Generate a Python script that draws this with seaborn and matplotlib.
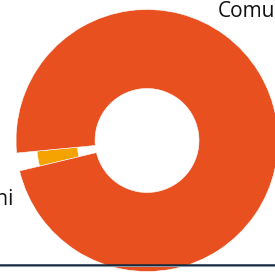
import matplotlib
matplotlib.use('Agg')
import matplotlib.pyplot as plt
import seaborn as sns

# Data
categories = ['Comune', 'Altri comuni']
shares = [97.8, 2.2]
colors = ['#E9501F', '#F4A300']

sns.set_style('white')
plt.rcParams['font.family'] = ['Open Sans', 'DejaVu Sans']

fig = plt.figure(figsize=(2.75, 2.72), dpi=100)
ax = fig.add_axes([0, 0, 1, 1])

# small slice first so it sits just below the left horizontal
wedges, _ = ax.pie(
    shares[::-1],
    colors=colors[::-1],
    startangle=185.5,
    counterclock=True,
    center=(147, 131.5),
    radius=131,
    wedgeprops=dict(width=79, edgecolor='white', linewidth=0.4),
)

# the small slice is drawn thinner than the selected big slice
wedges[0].set_radius(110.5)
wedges[0].set_width(40.5)

ax.set_xlim(0, 275)
ax.set_ylim(0, 272)
ax.set_aspect('equal')
ax.axis('off')

# slice labels (cut off by the frame edge as in the original)
ax.text(218, 255, categories[0], fontsize=15, color='#111111',
        ha='left', va='baseline', clip_on=False)
ax.text(13.5, 67, categories[1], fontsize=15, color='#111111',
        ha='right', va='baseline', clip_on=False)

# bottom rule of the page
ax.axhline(7.2, color='#13263A', lw=1.8, zorder=5)
ax.axhline(5.8, color='#8A96A3', lw=0.8, zorder=5)

fig.savefig('out.png', dpi=100)
